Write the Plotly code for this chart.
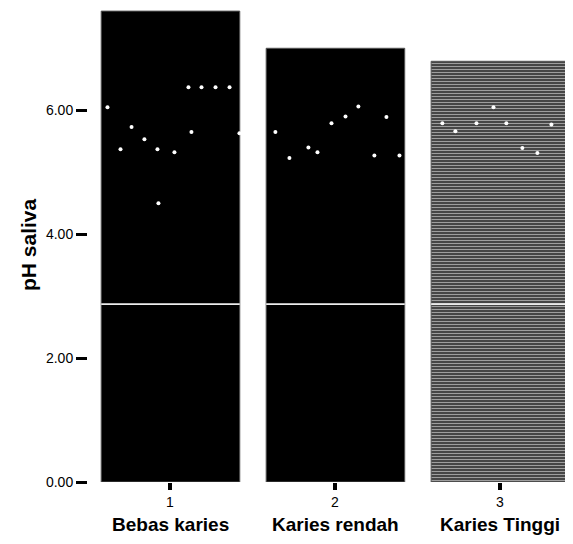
import plotly.graph_objects as go

categories = [1, 2, 3]
category_names = ["Bebas karies", "Karies rendah", "Karies Tinggi"]
ph_means = [7.60, 7.00, 6.79]
bar_colors = ["#000000", "#000000", "#3c3c3c"]

ytick_vals = [0, 2, 4, 6]
ytick_text = ["0.00", "2.00", "4.00", "6.00"]

# white specks visible on the bars
dot_x = [0.618, 0.697, 0.764, 0.842, 0.921, 1.024, 0.927, 1.127, 1.109, 1.188, 1.273, 1.358, 1.418,
         1.636, 1.721, 1.836, 1.891, 1.976, 2.061, 2.139, 2.236, 2.309, 2.388,
         2.648, 2.727, 2.855, 2.958, 3.036, 3.133, 3.224, 3.309, 3.406]
dot_y = [6.05, 5.37, 5.73, 5.53, 5.37, 5.32, 4.50, 5.65, 6.37, 6.37, 6.37, 6.37, 5.63,
         5.65, 5.23, 5.40, 5.32, 5.79, 5.90, 6.06, 5.27, 5.89, 5.27,
         5.79, 5.66, 5.79, 6.05, 5.79, 5.39, 5.31, 5.77, 5.87]
line_level = 2.87

FONT = "Arial, Liberation Sans, sans-serif"

fig = go.Figure()
fig.add_trace(go.Bar(
    x=categories, y=ph_means, width=0.84,
    marker=dict(
        color=bar_colors,
        line=dict(color="#555555", width=1),
        pattern=dict(shape=["", "", "-"], fgcolor="#a8a8a8",
                     size=3, solidity=0.4, fillmode="overlay"),
    ),
    showlegend=False, hoverinfo="skip",
))
for c in categories:
    fig.add_trace(go.Scatter(
        x=[c - 0.42, c + 0.42], y=[line_level, line_level], mode="lines",
        line=dict(color="#ececec", width=1.8), showlegend=False, hoverinfo="skip",
    ))
fig.add_trace(go.Scatter(
    x=dot_x, y=dot_y, mode="markers",
    marker=dict(color="white", size=4), showlegend=False, hoverinfo="skip",
))

for c, name in zip(categories, category_names):
    fig.add_annotation(x=c, y=0, xref="x", yref="paper", yshift=-20, yanchor="middle",
                       xanchor="center", text=str(c), borderpad=0,
                       showarrow=False, font=dict(family=FONT, size=14, color="black"))
    fig.add_annotation(x=c, y=0, xref="x", yref="paper", yshift=-42, yanchor="middle",
                       xanchor="center", text="<b>%s</b>" % name, borderpad=0,
                       showarrow=False, font=dict(family=FONT, size=19, color="black"))

fig.add_annotation(x=0, y=0.5, xref="paper", yref="paper", xshift=-60, textangle=-90,
                   xanchor="center", yanchor="middle",
                   text="<b>pH saliva</b>", showarrow=False,
                   font=dict(family=FONT, size=21, color="black"))

fig.update_layout(
    width=565, height=536,
    margin=dict(l=80, r=0, t=0, b=62),
    paper_bgcolor="white", plot_bgcolor="white",
    font=dict(family=FONT, color="black"),
    xaxis=dict(range=[0.5, 3.44], tickvals=categories, showticklabels=False,
               ticks="outside", ticklen=7, tickwidth=4, tickcolor="black", automargin=False,
               showgrid=False, zeroline=False, showline=False),
    yaxis=dict(range=[0, 7.65], tickvals=ytick_vals, ticktext=ytick_text, automargin=False,
               ticks="outside", ticklen=11, tickwidth=3, tickcolor="black",
               tickfont=dict(size=14), showgrid=False, zeroline=False, showline=False),
)

fig.write_html("out.html")
